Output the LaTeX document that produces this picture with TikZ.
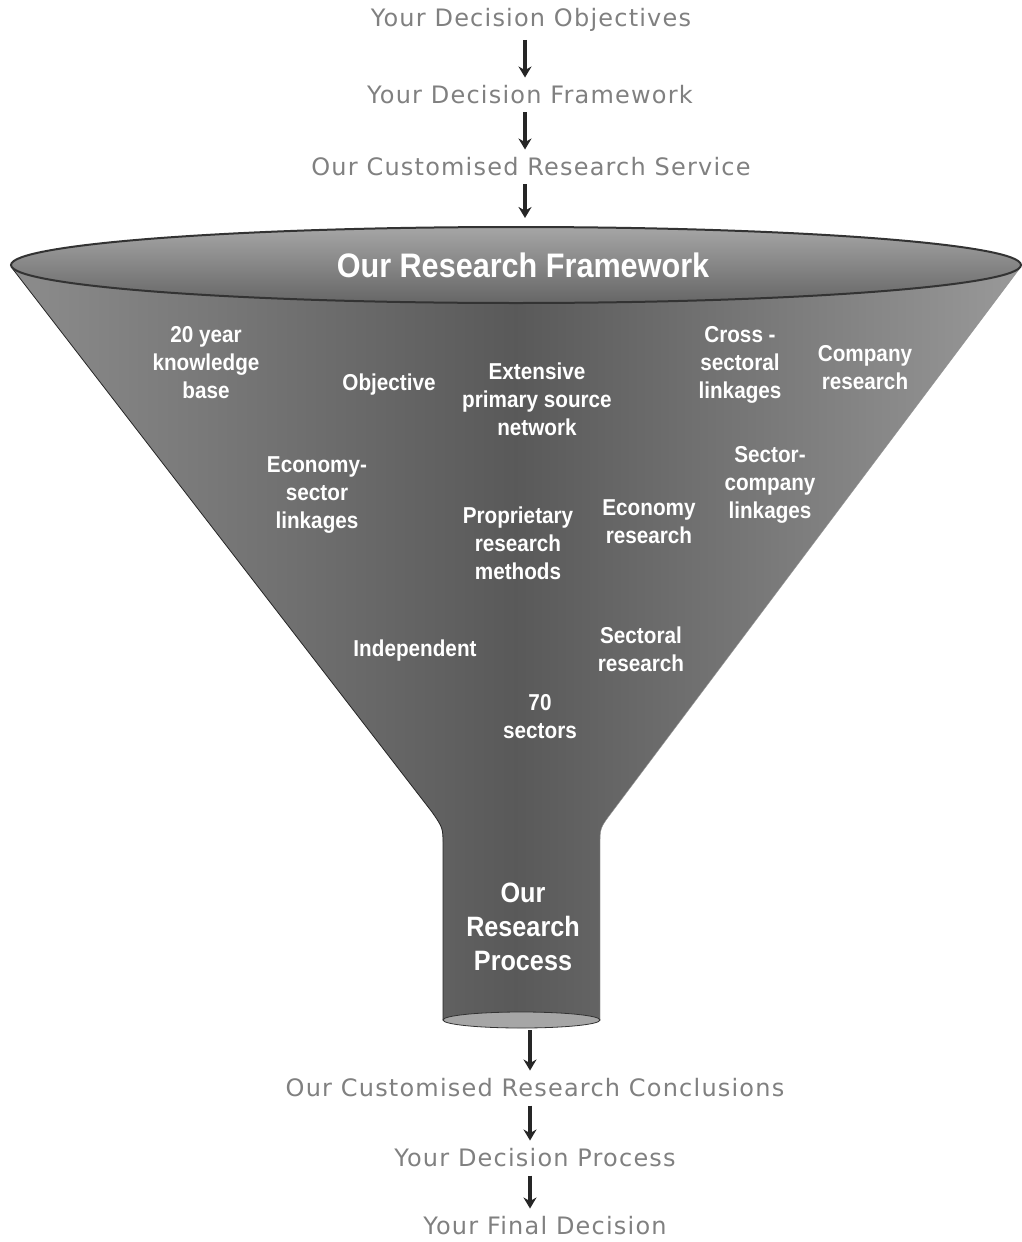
\documentclass[tikz,border=0pt]{standalone}
\usepackage{fontspec}
\setmainfont{Liberation Sans}
\newfontfamily\flowfont[LetterSpace=5]{DejaVu Sans}
\newfontfamily\funfont[FakeStretch=0.9]{Liberation Sans}
\usepackage{tikz}
\usetikzlibrary{arrows.meta,positioning,calc}
\tikzstyle{flowtext}=[font=\flowfont\fontsize{24}{26}\selectfont,text=black!50,inner sep=0pt]
\tikzstyle{funtext}=[font=\funfont\bfseries\fontsize{23}{28}\selectfont,text=white,align=center,inner sep=0pt]
\tikzstyle{flow}=[line width=3.5pt,-{Stealth[length=11pt,width=13pt]},black!85]
\begin{document}
\begin{tikzpicture}[x=1pt,y=-1pt]
\useasboundingbox (0,0) rectangle (1022,1242);
\shade[left color=black!45,right color=black!40,middle color=black!65]
  (12,268) -- (432,812) .. controls (443,828) .. (443,845) -- (443,1020)
  -- (600,1020) -- (600,845) .. controls (600,828) .. (612,812) -- (1020,268) -- cycle;
\draw[black!85,thick] (12,268) -- (432,812) .. controls (443,828) .. (443,845) -- (443,1020);
\draw[black!45] (1020,268) -- (612,812) .. controls (600,828) .. (600,845) -- (600,1020);
\filldraw[fill=black!35,draw=black!80,thick] (521.5,1020) ellipse [x radius=78.5,y radius=8];
\shade[top color=black!35,bottom color=black!60] (516,265) ellipse [x radius=505,y radius=38];
\draw[black!80,line width=2pt] (516,265) ellipse [x radius=505,y radius=38];

\node [flowtext] (obj) at (531,20) {Your Decision Objectives};
\node [flowtext] (frm) at (530,95) {Your Decision Framework};
\node [flowtext] (srv) at (531,167) {Our Customised Research Service};
\coordinate (ftop) at (525,218);
\node [funtext,font=\funfont\bfseries\fontsize{34}{36}\selectfont] (fw) at (523,265) {Our Research Framework};

\node [funtext] (kb) at (206,363) {20 year\\knowledge\\base};
\node [funtext] (ob) at (389,385) {Objective};
\node [funtext] (ps) at (537,399) {Extensive\\primary source\\network};
\node [funtext] (cs) at (740,365) {Cross -\\sectoral\\linkages};
\node [funtext] (cr) at (865,368) {Company\\research};
\node [funtext] (es) at (317,495) {Economy-\\sector\\linkages};
\node [funtext] (sc) at (770,485) {Sector-\\company\\linkages};
\node [funtext] (pm) at (518,543) {Proprietary\\research\\methods};
\node [funtext] (er) at (649,522) {Economy\\research};
\node [funtext] (in) at (415,651) {Independent};
\node [funtext] (sr) at (641,649) {Sectoral\\research};
\node [funtext] (sx) at (540,717) {70\\sectors};
\node [funtext,font=\funfont\bfseries\fontsize{28}{34}\selectfont] (pr) at (523,927) {Our\\Research\\Process};

\coordinate (fbot) at (530,1030);
\node [flowtext] (con) at (535,1088) {Our Customised Research Conclusions};
\node [flowtext] (dp) at (535,1158) {Your Decision Process};
\node [flowtext] (fd) at (545,1226) {Your Final Decision};

\draw[flow] ($(obj.south)+(-6,8)$) -- ($(frm.north)+(-5,-8)$);
\draw[flow] ($(frm.south)+(-5,8)$) -- ($(srv.north)+(-6,-8)$);
\draw[flow] ($(srv.south)+(-6,8)$) -- (ftop);
\draw[flow] (fbot) -- ($(con.north)+(-5,-8)$);
\draw[flow] ($(con.south)+(-5,8)$) -- ($(dp.north)+(-5,-8)$);
\draw[flow] ($(dp.south)+(-5,8)$) -- ($(fd.north)+(-15,-8)$);
\end{tikzpicture}
\end{document}
